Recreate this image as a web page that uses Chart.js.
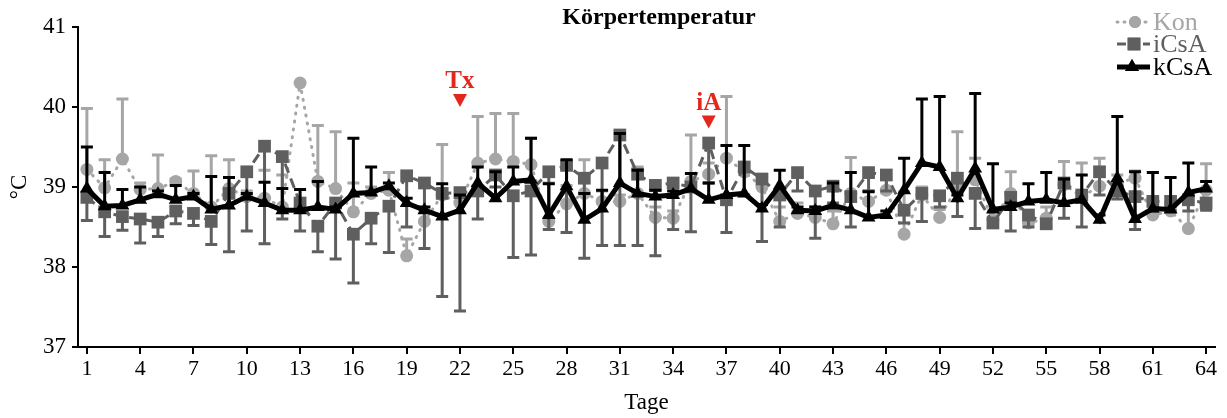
<!DOCTYPE html>
<html>
<head>
<meta charset="utf-8">
<script src="https://cdn.jsdelivr.net/npm/chart.js@4.4.1/dist/chart.umd.min.js"></script>
<style>
html, body { margin: 0; padding: 0; background: #fff; }
</style>
</head>
<body>
<canvas id="graficaTemp" width="1227" height="418"></canvas>
<script>
// Tage 1..64
const tage = [1,2,3,4,5,6,7,8,9,10,11,12,13,14,15,16,17,18,19,20,21,22,23,24,25,26,27,28,29,30,31,32,
    33,34,35,36,37,38,39,40,41,42,43,44,45,46,47,48,49,50,51,52,53,54,55,56,57,58,59,60,61,62,63,64];
const tageTicks = [1,4,7,10,13,16,19,22,25,28,31,34,37,40,43,46,49,52,55,58,61,64];
const yTicks = [37, 38, 39, 40, 41];

// Mittelwerte
const kon = [39.22,38.99,39.35,38.97,38.98,39.07,38.92,38.75,38.98,38.88,38.86,38.75,40.30,39.07,38.98,38.69,
    38.92,38.96,38.14,38.57,38.90,38.80,39.30,39.35,39.32,39.28,38.57,38.79,38.92,38.82,38.82,38.92,
    38.62,38.61,39.07,39.16,39.36,39.19,39.00,38.57,38.67,38.62,38.54,38.92,38.82,38.96,38.41,38.90,
    38.62,39.00,39.09,38.59,38.92,38.55,38.61,39.03,38.88,39.01,39.05,39.11,38.65,38.70,38.48,38.96];
const icsa = [38.87,38.69,38.63,38.60,38.56,38.70,38.67,38.57,38.92,39.19,39.51,39.38,38.80,38.51,38.80,38.41,
    38.61,38.76,39.14,39.05,38.92,38.93,38.95,39.15,38.89,38.95,39.19,39.27,39.11,39.30,39.65,39.16,
    39.02,39.05,39.00,39.55,38.84,39.25,39.10,38.90,39.18,38.95,39.01,38.88,39.18,39.15,38.71,38.92,
    38.89,39.11,38.92,38.55,38.87,38.65,38.54,39.05,38.90,39.19,38.95,38.88,38.82,38.82,38.84,38.80];
const kcsa = [38.98,38.76,38.77,38.84,38.91,38.84,38.88,38.72,38.77,38.88,38.80,38.71,38.71,38.75,38.72,38.92,
    38.93,39.01,38.80,38.71,38.63,38.71,39.05,38.86,39.07,39.09,38.65,39.01,38.59,38.73,39.05,38.92,
    38.88,38.90,38.98,38.84,38.90,38.92,38.73,39.02,38.71,38.70,38.77,38.71,38.62,38.65,38.96,39.30,
    39.25,38.86,39.23,38.72,38.75,38.82,38.84,38.80,38.84,38.59,39.11,38.60,38.73,38.72,38.93,38.98];

// Ende der Fehlerbalken (Kon und kCsA nach oben, iCsA nach unten)
const konFehler = [39.98,39.34,40.10,39.05,39.40,39.10,39.20,39.39,39.34,38.95,39.21,39.15,40.30,39.77,39.69,39.05,
    39.00,39.18,38.35,38.70,39.53,38.90,39.88,39.92,39.92,39.61,39.05,39.02,39.34,38.95,38.90,39.25,
    38.75,38.70,39.65,39.30,40.13,39.30,39.10,38.75,38.80,38.75,38.70,39.37,38.95,39.10,38.94,39.00,
    38.72,39.69,39.36,38.70,39.19,38.65,38.75,39.32,39.30,39.36,39.15,39.20,39.18,38.80,38.82,39.29];
const icsaFehler = [38.58,38.38,38.46,38.30,38.38,38.54,38.52,38.28,38.19,38.45,38.29,38.60,38.45,38.19,38.10,37.80,
    38.29,38.18,38.50,38.23,37.63,37.45,38.60,39.00,38.12,38.15,38.47,38.43,38.11,38.27,38.27,38.27,
    38.14,38.47,38.44,39.05,38.43,38.90,38.32,38.50,38.95,38.36,38.80,38.50,38.95,38.95,38.55,38.57,
    38.75,38.63,38.48,38.50,38.45,38.50,38.50,38.61,38.50,38.90,38.85,38.47,38.70,38.70,38.70,38.71];
const kcsaFehler = [39.50,39.18,38.97,39.00,38.95,39.02,38.92,39.13,39.12,38.92,39.06,38.98,38.97,39.07,38.75,39.61,
    39.25,39.05,38.86,38.75,39.04,38.90,39.25,39.19,39.25,39.61,39.04,39.34,38.92,38.96,39.67,39.21,
    38.96,38.95,39.17,39.05,39.52,39.52,38.78,39.21,38.75,38.75,39.05,39.18,38.94,38.70,39.36,40.10,
    40.13,38.90,40.17,39.29,38.80,39.04,39.18,39.10,39.15,38.65,39.88,39.19,39.18,39.12,39.30,39.07];

// Markierungen (Tag, Text, Spitze des Dreiecks in °C)
const markierungen = [
    { tag: 22, text: 'Tx', wert: 40.0 },
    { tag: 36, text: 'iA', wert: 39.73 }
];

const FONT = '"Liberation Serif", "Times New Roman", serif';
const GRAU_HELL = '#a6a6a6';
const GRAU_DUNKEL = '#5f5f5f';
const ROT = '#e3271c';

Chart.defaults.font.family = FONT;
Chart.defaults.color = '#000';

const fehlerbalken = {
    id: 'fehlerbalken',
    beforeDatasetDraw(chart, args) {
        const ds = chart.data.datasets[args.index];
        if (!ds.fehler) return;
        const ctx = chart.ctx;
        const y = chart.scales.y;
        ctx.save();
        ctx.strokeStyle = ds.fehlerFarbe;
        ctx.lineWidth = 3;
        args.meta.data.forEach((p, i) => {
            const yEnd = y.getPixelForValue(ds.fehler[i]);
            if (Math.abs(yEnd - p.y) < 1) return;
            ctx.beginPath();
            ctx.moveTo(p.x, p.y);
            ctx.lineTo(p.x, yEnd);
            ctx.moveTo(p.x - 6, yEnd);
            ctx.lineTo(p.x + 6, yEnd);
            ctx.stroke();
        });
        ctx.restore();
    }
};

const beschriftung = {
    id: 'beschriftung',
    afterDraw(chart) {
        const ctx = chart.ctx;
        const x = chart.scales.x;
        const y = chart.scales.y;
        ctx.save();

        // Titel
        ctx.fillStyle = '#000';
        ctx.font = 'bold 24px ' + FONT;
        ctx.textAlign = 'center';
        ctx.textBaseline = 'middle';
        ctx.fillText('Körpertemperatur', 659, 18);

        // Tx / iA
        markierungen.forEach(m => {
            const px = x.getPixelForValue(tage.indexOf(m.tag));
            const py = y.getPixelForValue(m.wert);
            ctx.fillStyle = ROT;
            ctx.beginPath();
            ctx.moveTo(px, py);
            ctx.lineTo(px - 7, py - 13);
            ctx.lineTo(px + 7, py - 13);
            ctx.closePath();
            ctx.fill();
            ctx.font = 'bold 25px ' + FONT;
            ctx.textBaseline = 'alphabetic';
            ctx.fillText(m.text, px, py - 19);
        });

        // Legende
        const eintraege = [
            { text: 'Kon', farbe: GRAU_HELL, stil: 'circle', r: 6, dash: [1, 6], breite: 3, yy: 22, cx: 1135 },
            { text: 'iCsA', farbe: GRAU_DUNKEL, stil: 'rect', r: 9, dash: [9, 4], breite: 3, yy: 44, cx: 1134 },
            { text: 'kCsA', farbe: '#000', stil: 'triangle', r: 8, dash: [], breite: 5, yy: 67, cx: 1132 }
        ];
        eintraege.forEach(e => {
            ctx.strokeStyle = e.farbe;
            ctx.lineWidth = e.breite;
            ctx.lineCap = e.dash.length && e.dash[0] < 2 ? 'round' : 'butt';
            ctx.setLineDash(e.dash);
            ctx.beginPath();
            ctx.moveTo(1117, e.yy);
            ctx.lineTo(1150, e.yy);
            ctx.stroke();
            ctx.setLineDash([]);
            ctx.fillStyle = e.farbe;
            Chart.helpers.drawPoint(ctx, { pointStyle: e.stil, radius: e.r, borderWidth: 0, rotation: 0 }, e.cx, e.yy);
            ctx.fill();
            ctx.font = '26px ' + FONT;
            ctx.textAlign = 'left';
            ctx.textBaseline = 'middle';
            ctx.fillText(e.text, 1153, e.yy + 1);
        });
        ctx.restore();
    }
};

const ctx = document.getElementById('graficaTemp').getContext('2d');
const graficaTemp = new Chart(ctx, {
    type: 'line',
    data: {
        labels: tage,
        datasets: [{
            label: 'Kon',
            data: kon,
            fehler: konFehler,
            fehlerFarbe: GRAU_HELL,
            borderColor: GRAU_HELL,
            borderWidth: 3,
            borderDash: [1, 7],
            borderCapStyle: 'round',
            pointStyle: 'circle',
            pointRadius: 6.5,
            pointBackgroundColor: GRAU_HELL,
            pointBorderColor: GRAU_HELL,
            pointBorderWidth: 0,
            tension: 0,
            order: 3
        }, {
            label: 'iCsA',
            data: icsa,
            fehler: icsaFehler,
            fehlerFarbe: GRAU_DUNKEL,
            borderColor: GRAU_DUNKEL,
            borderWidth: 3,
            borderDash: [10, 6],
            pointStyle: 'rect',
            pointRadius: 9,
            pointBackgroundColor: GRAU_DUNKEL,
            pointBorderColor: GRAU_DUNKEL,
            pointBorderWidth: 0,
            tension: 0,
            order: 2
        }, {
            label: 'kCsA',
            data: kcsa,
            fehler: kcsaFehler,
            fehlerFarbe: '#000',
            borderColor: '#000',
            borderWidth: 5,
            pointStyle: 'triangle',
            pointRadius: 8,
            pointBackgroundColor: '#000',
            pointBorderColor: '#000',
            pointBorderWidth: 0,
            tension: 0,
            order: 1
        }]
    },
    options: {
        responsive: false,
        animation: false,
        layout: { padding: { left: 0, right: 12, top: 27, bottom: 0 } },
        plugins: {
            legend: { display: false },
            title: { display: false },
            tooltip: { enabled: false }
        },
        scales: {
            x: {
                type: 'category',
                offset: true,
                grid: { offset: false, drawOnChartArea: false, drawTicks: true, tickLength: 7, color: '#000', lineWidth: 2 },
                border: { color: '#000', width: 2 },
                ticks: {
                    autoSkip: false,
                    maxRotation: 0,
                    padding: 2,
                    color: '#000',
                    font: { size: 22 },
                    callback: function (v, i) {
                        return tageTicks.includes(tage[i]) ? String(tage[i]) : null;
                    }
                },
                title: { display: true, text: 'Tage', color: '#000', font: { size: 23 }, padding: { top: 0, bottom: 1 } },
                afterFit: function (s) { s.height = 71; }
            },
            y: {
                min: 37,
                max: 41,
                afterBuildTicks: function (s) { s.ticks = yTicks.map(v => ({ value: v })); },
                grid: { drawOnChartArea: false, drawTicks: true, tickLength: 6, color: '#000', lineWidth: 2 },
                border: { color: '#000', width: 2 },
                ticks: { padding: 6, color: '#000', font: { size: 23 } },
                title: { display: true, text: '°C', color: '#000', font: { size: 23 }, padding: { top: 6, bottom: 0 } },
                afterFit: function (s) { s.width = 78; }
            }
        }
    },
    plugins: [fehlerbalken, beschriftung]
});
</script>
</body>
</html>
